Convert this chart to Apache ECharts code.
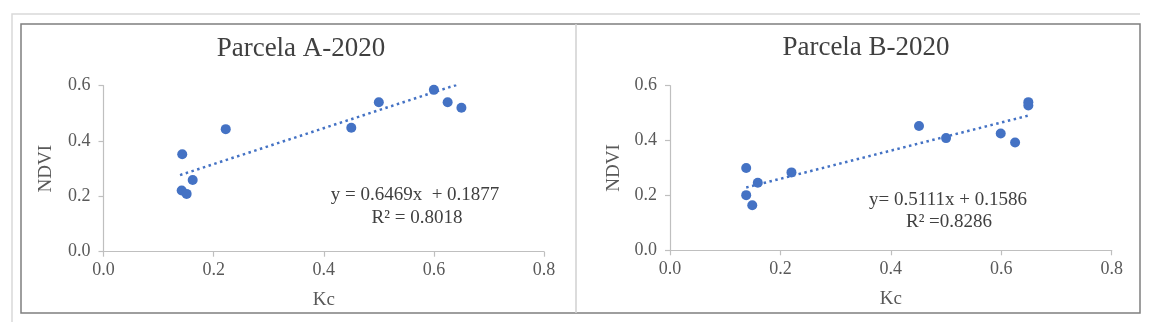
<!DOCTYPE html>
<html>
<head>
<meta charset="utf-8">
<script src="https://cdn.jsdelivr.net/npm/echarts@6/dist/echarts.min.js"></script>
<style>
html,body{margin:0;padding:0;background:#fff;}
#c{width:1150px;height:327px;}
</style>
</head>
<body>
<div id="c"></div>
<script>
// ---- data ----
const titles = ['Parcela A-2020', 'Parcela B-2020'];
const xName = 'Kc';
const yName = 'NDVI';
const kcA   = [0.143, 0.222, 0.142, 0.151, 0.162, 0.450, 0.500, 0.600, 0.625, 0.650];
const ndviA = [0.352, 0.443, 0.221, 0.209, 0.259, 0.448, 0.540, 0.585, 0.540, 0.520];
const kcB   = [0.138, 0.138, 0.149, 0.159, 0.220, 0.451, 0.500, 0.599, 0.625, 0.649, 0.649];
const ndviB = [0.300, 0.201, 0.164, 0.246, 0.284, 0.453, 0.409, 0.426, 0.393, 0.540, 0.528];
const trendAx = [0.139, 0.641];
const trendAy = [0.277, 0.603];
const trendBx = [0.138, 0.649];
const trendBy = [0.229, 0.491];
const eqA = ['y = 0.6469x  + 0.1877', 'R\u00B2 = 0.8018'];
const eqB = ['y= 0.5111x + 0.1586', 'R\u00B2 =0.8286'];

const zip = (xs, ys) => xs.map((x, i) => [x, ys[i]]);

const FONT = '"Liberation Serif", "DejaVu Serif", serif';
const BLUE = '#4472C4';
const AXIS = '#bfbfbf';
const LBL = '#595959';

function xAx(idx) {
  return {
    gridIndex: idx, type: 'value', min: 0, max: 0.8, interval: 0.2,
    name: xName, nameLocation: 'middle', nameGap: 39,
    nameTextStyle: {fontFamily: FONT, fontSize: 19, color: LBL},
    axisLine: {show: true, lineStyle: {color: AXIS, width: 1.2}},
    axisTick: {show: true, length: 5, lineStyle: {color: AXIS, width: 1.2}},
    axisLabel: {margin: 10, fontFamily: FONT, fontSize: 18, color: LBL, formatter: v => v.toFixed(1)},
    splitLine: {show: false}
  };
}
function yAx(idx, gap) {
  return {
    gridIndex: idx, type: 'value', min: 0, max: 0.6, interval: 0.2,
    name: yName, nameLocation: 'middle', nameGap: gap, nameRotate: 90,
    nameTextStyle: {fontFamily: FONT, fontSize: 19, color: LBL},
    axisLine: {show: true, lineStyle: {color: AXIS, width: 1.2}},
    axisTick: {show: true, length: 5, lineStyle: {color: AXIS, width: 1.2}},
    axisLabel: {margin: 13, fontFamily: FONT, fontSize: 18, color: LBL, formatter: v => v.toFixed(1)},
    splitLine: {show: false}
  };
}
function scatter(idx, data) {
  return {
    type: 'scatter', xAxisIndex: idx, yAxisIndex: idx, data: data,
    symbolSize: 10, itemStyle: {color: BLUE, opacity: 1}, z: 3, silent: true
  };
}
function trend(idx, data) {
  return {
    type: 'line', xAxisIndex: idx, yAxisIndex: idx, data: data,
    symbol: 'none', silent: true, z: 2,
    lineStyle: {color: BLUE, width: 2.5, type: [2.5, 3.5]}
  };
}
function eqText(cx, cy, txt) {
  return {
    type: 'text', x: cx, y: cy, z: 10,
    style: {text: txt, fontFamily: FONT, fontSize: 19, fill: '#404040', align: 'center', verticalAlign: 'middle'}
  };
}

const chart = echarts.init(document.getElementById('c'), null, {renderer: 'canvas'});
chart.setOption({
  backgroundColor: '#ffffff',
  animation: false,
  title: [
    {text: titles[0], left: 296, top: 30, textAlign: 'center',
     textStyle: {fontFamily: FONT, fontSize: 27, fontWeight: 'normal', color: '#404040'}},
    {text: titles[1], left: 861, top: 29, textAlign: 'center',
     textStyle: {fontFamily: FONT, fontSize: 27, fontWeight: 'normal', color: '#404040'}}
  ],
  grid: [
    {left: 103.5, top: 85.7, width: 440.5, height: 166, containLabel: false},
    {left: 670, top: 85.7, width: 441.7, height: 164.6, containLabel: false}
  ],
  xAxis: [xAx(0), xAx(1)],
  yAxis: [yAx(0, 48), yAx(1, 46.5)],
  series: [
    trend(0, zip(trendAx, trendAy)),
    scatter(0, zip(kcA, ndviA)),
    trend(1, zip(trendBx, trendBy)),
    scatter(1, zip(kcB, ndviB))
  ],
  graphic: [
    {type: 'polyline', shape: {points: [[12, 322], [12, 14], [1140, 14]]}, style: {stroke: '#d9d9d9', lineWidth: 1.5, fill: null}, silent: true},
    {type: 'rect', shape: {x: 21, y: 24, width: 1119, height: 289}, style: {stroke: '#7f7f7f', lineWidth: 1.5, fill: null}, silent: true},
    {type: 'line', shape: {x1: 576, y1: 24, x2: 576, y2: 313}, style: {stroke: '#d0d0d0', lineWidth: 1.5}, silent: true},
    eqText(415, 195, eqA[0]),
    eqText(417, 218, eqA[1]),
    eqText(948, 200, eqB[0]),
    eqText(949, 222, eqB[1])
  ]
});
</script>
</body>
</html>
